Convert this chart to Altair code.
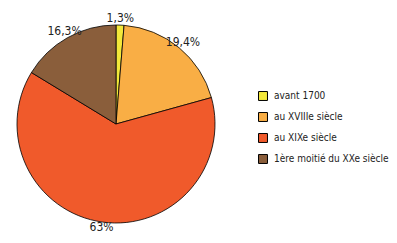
import altair as alt
import pandas as pd

categories = ["avant 1700", "au XVIIIe siècle", "au XIXe siècle", "1ère moitié du XXe siècle"]
values = [1.3, 19.4, 63.0, 16.3]
labels = ["1,3%", "19,4%", "63%", "16,3%"]
colors = ["#f3e83a", "#f9ae45", "#f05a2b", "#8a5e3b"]

df = pd.DataFrame({"cat": categories, "val": values, "lab": labels, "idx": list(range(len(values)))})

FONT = "DejaVu Sans Condensed"
CX, CY = 108, 116

base = alt.Chart(df).encode(
    theta=alt.Theta("val:Q", stack=True),
    order=alt.Order("idx:Q"),
)

arcs = base.mark_arc(outerRadius=99, stroke="black", strokeWidth=0.8).encode(
    color=alt.Color(
        "cat:N",
        scale=alt.Scale(domain=categories, range=colors),
        sort=categories,
        legend=alt.Legend(
            title=None,
            orient="none",
            legendX=250,
            legendY=83,
            symbolType="square",
            symbolSize=80,
            symbolStrokeColor="black",
            symbolStrokeWidth=1,
            labelFont=FONT,
            labelFontSize=10,
            labelColor="#222",
            rowPadding=7,
            labelOffset=6,
            labelLimit=200,
        ),
    ),
    x=alt.value(CX),
    y=alt.value(CY),
)

text = base.mark_text(radius=105, dy=-1, font=FONT, fontSize=12, color="#222").encode(
    text="lab:N",
    x=alt.value(CX),
    y=alt.value(CY),
)

chart = (arcs + text).properties(
    width=381, height=227, autosize=alt.AutoSizeParams(type="none"), padding=0
).configure_view(stroke=None)

chart.save("out.html", embed_options={"renderer": "svg", "actions": False})
